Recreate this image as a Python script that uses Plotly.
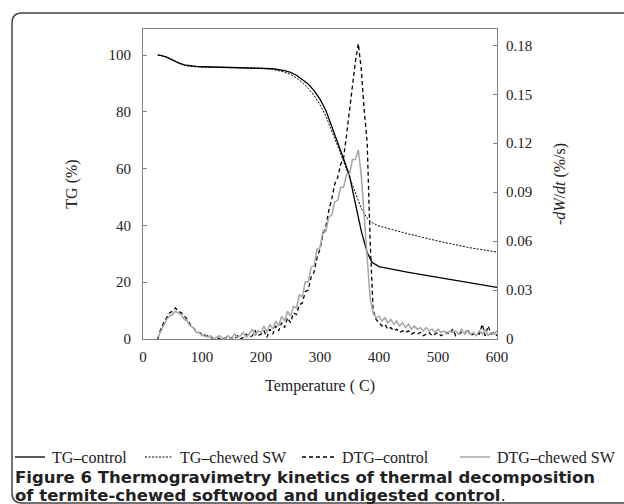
import plotly.graph_objects as go

# ---------------- data ----------------
tg_temp = [25, 30, 40, 50, 60, 70, 80, 90, 100, 150, 200, 220, 240, 250, 260, 270, 280, 290,
           300, 310, 320, 330, 340, 350, 360, 370, 380, 388, 400, 435, 450, 500, 550, 600]
tg_control = [100.0, 99.9, 99.3, 98.3, 97.3, 96.6, 96.2, 96.0, 95.9, 95.7, 95.5, 95.2, 94.5, 93.9,
              92.9, 91.5, 89.8, 87.5, 84.5, 80.5, 75.0, 69.5, 63.5, 57.5, 48.0, 38.0, 30.5, 27.0,
              25.5, 24.0, 23.5, 21.7, 19.9, 18.2]
tg_chewed = [100.0, 99.9, 99.3, 98.3, 97.2, 96.4, 96.0, 95.9, 95.8, 95.7, 95.4, 95.0, 94.0, 93.2,
             92.0, 90.3, 88.3, 85.8, 82.5, 78.5, 73.5, 68.0, 62.5, 57.0, 51.0, 46.0, 42.5, 41.0,
             39.8, 37.8, 37.0, 34.5, 32.3, 30.6]

dtg_temp = list(range(25, 601, 5))
dtg_control = [0.000, 0.006, 0.010, 0.013, 0.016, 0.017, 0.019, 0.017, 0.016, 0.014,
               0.012, 0.009, 0.007, 0.005, 0.004, 0.003, 0.002, 0.002, 0.001, 0.000,
               0.001, 0.000, 0.000, 0.001, 0.000, 0.001, 0.000, 0.002, 0.000, 0.001,
               0.003, 0.001, 0.002, 0.005, 0.002, 0.003, 0.005, 0.001, 0.006, 0.003,
               0.008, 0.005, 0.010, 0.007, 0.013, 0.010, 0.016, 0.015, 0.021, 0.022,
               0.029, 0.030, 0.038, 0.041, 0.050, 0.055, 0.064, 0.069, 0.079, 0.086,
               0.095, 0.099, 0.107, 0.111, 0.125, 0.140, 0.155, 0.170, 0.181, 0.165,
               0.140, 0.120, 0.060, 0.018, 0.012, 0.010, 0.008, 0.009, 0.006, 0.007,
               0.005, 0.006, 0.004, 0.005, 0.004, 0.005, 0.003, 0.004, 0.003, 0.004,
               0.002, 0.003, 0.004, 0.002, 0.003, 0.004, 0.002, 0.003, 0.004, 0.003,
               0.006, 0.002, 0.003, 0.004, 0.003, 0.006, 0.002, 0.003, 0.004, 0.003,
               0.009, 0.002, 0.008, 0.003, 0.004, 0.002]
dtg_chewed = [0.001, 0.005, 0.009, 0.012, 0.014, 0.015, 0.017, 0.016, 0.015, 0.012,
              0.011, 0.008, 0.007, 0.004, 0.004, 0.002, 0.003, 0.001, 0.002, 0.000,
              0.001, 0.002, 0.000, 0.001, 0.002, 0.000, 0.003, 0.001, 0.002, 0.004,
              0.001, 0.003, 0.006, 0.002, 0.005, 0.004, 0.008, 0.004, 0.009, 0.006,
              0.011, 0.008, 0.014, 0.011, 0.017, 0.014, 0.020, 0.019, 0.027, 0.026,
              0.035, 0.035, 0.044, 0.045, 0.055, 0.056, 0.066, 0.066, 0.075, 0.076,
              0.084, 0.085, 0.093, 0.093, 0.101, 0.101, 0.110, 0.110, 0.116, 0.100,
              0.075, 0.048, 0.025, 0.016, 0.013, 0.014, 0.011, 0.013, 0.010, 0.012,
              0.009, 0.011, 0.008, 0.010, 0.007, 0.009, 0.006, 0.008, 0.006, 0.007,
              0.005, 0.007, 0.005, 0.006, 0.004, 0.006, 0.004, 0.005, 0.003, 0.005,
              0.004, 0.005, 0.003, 0.006, 0.003, 0.005, 0.003, 0.004, 0.002, 0.005,
              0.003, 0.006, 0.002, 0.004, 0.003, 0.005]

series_names = ["TG\u2013control", "TG\u2013chewed SW", "DTG\u2013control", "DTG\u2013chewed SW"]
series_colors = ["black", "black", "black", "#a6a6a6"]
series_dash = ["solid", "2px,1.5px", "4px,3px", "solid"]
series_width = [1.3, 1.0, 1.3, 1.5]

x_ticks = [0, 100, 200, 300, 400, 500, 600]
y_ticks = [0, 20, 40, 60, 80, 100]
y2_ticks = [0, 0.03, 0.06, 0.09, 0.12, 0.15, 0.18]
y2_labels = ["0", "0.03", "0.06", "0.09", "0.12", "0.15", "0.18"]

caption1 = "<b>Figure 6 Thermogravimetry kinetics of thermal decomposition</b>"
caption2 = "<b>of termite-chewed softwood and undigested control</b>."

# ---------------- layout geometry ----------------
W, H = 624, 504
L, R, T, B = 143, 497, 29, 339   # plot area in px


def px(xp):
    return (xp - L) / (R - L)


def py(yp):
    return (B - yp) / (B - T)


serif = "Liberation Serif, Times New Roman, serif"
sans = "DejaVu Sans, sans-serif"

fig = go.Figure()
series = [(tg_temp, tg_control, "y"), (tg_temp, tg_chewed, "y"),
          (dtg_temp, dtg_control, "y2"), (dtg_temp, dtg_chewed, "y2")]
for i, (xs, ys, ax) in enumerate(series):
    fig.add_trace(go.Scatter(x=xs, y=ys, name=series_names[i], mode="lines", yaxis=ax,
                             showlegend=False,
                             line=dict(color=series_colors[i], width=series_width[i],
                                       dash=series_dash[i])))

# rounded outer frame
x0, x1 = px(12), px(650)
y0, y1 = py(13), py(503)
rx, ry = 10 / (R - L), 10 / (B - T)
path = (f"M {x0},{y0 - ry} Q {x0},{y0} {x0 + rx},{y0} L {x1},{y0} "
        f"M {x0},{y0 - ry} L {x0},{y1 + ry} Q {x0},{y1} {x0 + rx},{y1} L {x1},{y1}")
shapes = [dict(type="path", xref="paper", yref="paper", path=path,
               line=dict(color="#444", width=1.5))]

# legend row (drawn as sample lines + labels)
legend_line_x = [(15, 45), (145, 173), (302, 336), (460, 490)]
legend_text_x = [50, 178, 340, 495]
legend_y = 457
annotations = []
for i in range(4):
    a, b = legend_line_x[i]
    shapes.append(dict(type="line", xref="paper", yref="paper",
                       x0=px(a), x1=px(b), y0=py(legend_y), y1=py(legend_y),
                       line=dict(color=series_colors[i], width=series_width[i],
                                 dash=series_dash[i])))
    annotations.append(dict(text=series_names[i], xref="paper", yref="paper",
                            x=px(legend_text_x[i]), y=py(legend_y), xanchor="left",
                            yanchor="middle", showarrow=False,
                            font=dict(family=serif, size=16, color="#222")))

annotations += [
    dict(text=caption1, xref="paper", yref="paper", x=px(13), y=py(478), xanchor="left",
         yanchor="middle", showarrow=False, font=dict(family=sans, size=16.5, color="#222")),
    dict(text=caption2, xref="paper", yref="paper", x=px(13), y=py(495), xanchor="left",
         yanchor="middle", showarrow=False, font=dict(family=sans, size=16.5, color="#222")),
]

fig.update_layout(
    width=W, height=H,
    margin=dict(l=L, r=W - R, t=T, b=H - B),
    paper_bgcolor="white", plot_bgcolor="white",
    font=dict(family=serif, size=15, color="#222"),
    showlegend=False,
    xaxis=dict(range=[0, 600], tickvals=x_ticks, showgrid=False, zeroline=False,
               showline=True, linecolor="#7f7f7f", linewidth=1, mirror=True, ticks="",
               ticklabelstandoff=4,
               title=dict(text="Temperature ( C)", standoff=15, font=dict(family=serif, size=16))),
    yaxis=dict(range=[0, 109.2], tickvals=y_ticks, showgrid=False, zeroline=False,
               showline=True, linecolor="#7f7f7f", linewidth=1, mirror=True,
               ticks="inside", ticklen=4, tickcolor="#7f7f7f", ticklabelstandoff=8,
               title=dict(text="TG (%)", standoff=26, font=dict(family=serif, size=16))),
    yaxis2=dict(range=[0, 0.19], tickvals=y2_ticks, ticktext=y2_labels, overlaying="y", side="right",
                showgrid=False, zeroline=False, showline=False,
                ticks="inside", ticklen=4, tickcolor="#7f7f7f", ticklabelstandoff=8,
                title=dict(text="-<i>dW</i>/<i>dt</i> (%/s)", standoff=22, font=dict(family=serif, size=16))),
    shapes=shapes,
    annotations=annotations,
)

fig.write_html("out.html")
